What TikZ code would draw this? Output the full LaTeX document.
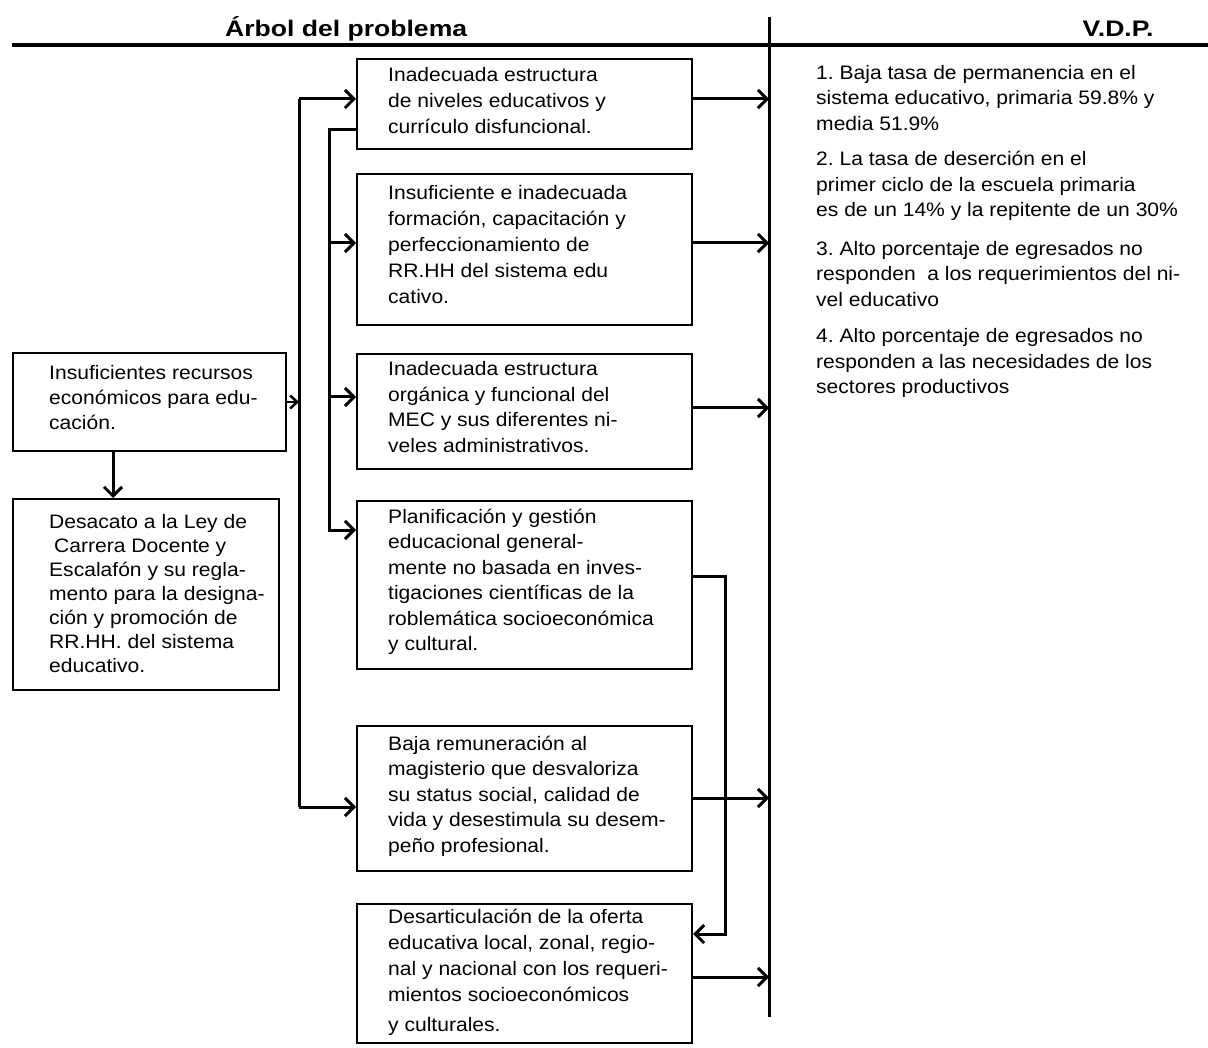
\documentclass[tikz,border=0pt]{standalone}
\usepackage{fontspec}
\setmainfont{Liberation Sans}
\newfontfamily\bodyfont{Liberation Sans}[FakeStretch=1.08]
\newfontfamily\headfont{Liberation Sans}[FakeStretch=1.18]
\usetikzlibrary{arrows.meta,calc}
\frenchspacing
\begin{document}
\begin{tikzpicture}[x=1pt,y=-1pt,
  box/.style={draw, line width=2pt, inner sep=0pt, anchor=north west},
  txt/.style={anchor=west, inner sep=0pt, align=left, font={\bodyfont\fontsize{19.5pt}{26pt}\selectfont}},
  txtb/.style={txt, font={\bodyfont\fontsize{19.5pt}{24pt}\selectfont}},
  txtm/.style={txt, font={\bodyfont\fontsize{19.5pt}{25.5pt}\selectfont}},
  head/.style={inner sep=0pt, font={\headfont\bfseries\fontsize{22.5pt}{27pt}\selectfont}},
  conn/.style={line width=3pt},
  arr/.style={conn, -{Straight Barb[length=9pt,width=18pt]}},
  arrs/.style={line width=2.5pt, -{Straight Barb[length=7pt,width=13pt]}}]
\useasboundingbox[fill=white] (0,0) rectangle (1208,1048);

% headers
\node[head, anchor=base west] (h1) at (225,37) {Árbol del problema};
\node[head, anchor=base] (h2) at (1118,37) {V.D.P.};
\coordinate (hL) at (12,45);
\coordinate (hR) at (1208,45);
\draw[line width=3.5pt] (hL) -- (hR);
\coordinate (dT) at (769,17);
\coordinate (dB) at (769,1017);
\draw[conn] (dT) -- (dB);

% boxes
\node[box, minimum width=335pt, minimum height=90pt] (b1) at (356,58) {};
\node[box, minimum width=335pt, minimum height=151pt] (b2) at (356,173) {};
\node[box, minimum width=335pt, minimum height=115pt] (b3) at (356,353) {};
\node[box, minimum width=335pt, minimum height=168pt] (b4) at (356,500) {};
\node[box, minimum width=335pt, minimum height=145pt] (b5) at (356,725) {};
\node[box, minimum width=335pt, minimum height=139pt] (b6) at (356,903) {};
\node[box, minimum width=273pt, minimum height=98pt] (ba) at (12,352) {};
\node[box, minimum width=266pt, minimum height=191pt] (bb) at (12,498) {};

% box texts
\node[txt] (t1) at (388,101) {Inadecuada estructura\\de niveles educativos y\\currículo disfuncional.};
\node[txt] (t2) at (388,245) {Insuficiente e inadecuada\\formación, capacitación y\\perfeccionamiento de\\RR.HH del sistema edu\\cativo.};
\node[txtm] (t3) at (388,407) {Inadecuada estructura\\orgánica y funcional del\\MEC y sus diferentes ni-\\veles administrativos.};
\node[txtm] (t4) at (388,582) {Planificación y gestión\\educacional general-\\mente no basada en inves-\\tigaciones científicas de la\\roblemática socioeconómica\\y cultural.};
\node[txtm] (t5) at (388,796) {Baja remuneración al\\magisterio que desvaloriza\\su status social, calidad de\\vida y desestimula su desem-\\peño profesional.};
\node[txt] (t6) at (388,972) {Desarticulación de la oferta\\educativa local, zonal, regio-\\nal y nacional con los requeri-\\mientos socioeconómicos\\[4pt]y culturales.};
\node[txt, font={\bodyfont\fontsize{19.5pt}{25pt}\selectfont}] (ta) at (49,398) {Insuficientes recursos\\económicos para edu-\\cación.};
\node[txtb] (tb) at (49,594) {Desacato a la Ley de\\\hspace*{5pt}Carrera Docente y\\Escalafón y su regla-\\mento para la designa-\\ción y promoción de\\RR.HH. del sistema\\educativo.};

% right texts
\node[txtm] (v1) at (816,98) {1. Baja tasa de permanencia en el\\sistema educativo, primaria 59.8\% y\\media 51.9\%};
\node[txtm] (v2) at (816,186) {2. La tasa de deserción en el\\primer ciclo de la escuela primaria\\es de un 14\% y la repitente de un 30\%};
\node[txtm] (v3) at (816,274) {3. Alto porcentaje de egresados no\\responden\ \ a los requerimientos del ni-\\vel educativo};
\node[txtm] (v4) at (816,363) {4. Alto porcentaje de egresados no\\responden a las necesidades de los\\sectores productivos};

% trunk
\coordinate (tA) at (299,99);
\coordinate (tB) at (299,807);
\coordinate (tC) at (299,402);
\draw[conn] (tA) -- (tB);
\draw[arr] (tA) -- (tA -| b1.west);
\draw[arr] (tB) -- (tB -| b5.west);
\draw[arrs] (tC -| ba.east) -- (tC);

% second line
\coordinate (s0) at (329,130);
\coordinate (s1) at (329,243);
\coordinate (s2) at (329,397);
\coordinate (s3) at (329,530);
\draw[arr] (s0 -| b1.west) -- (s0) -- (s3) -- (s3 -| b4.west);
\draw[arr] (s1) -- (s1 -| b2.west);
\draw[arr] (s2) -- (s2 -| b3.west);

% A -> B
\coordinate (ab) at (113,450);
\draw[arr] (ab |- ba.south) -- (ab |- bb.north);

% right arrows
\coordinate (r1) at (769,99);
\coordinate (r2) at (769,243);
\coordinate (r3) at (769,408);
\coordinate (r5) at (769,798);
\coordinate (r6) at (769,977);
\draw[arr] (r1 -| b1.east) -- (r1);
\draw[arr] (r2 -| b2.east) -- (r2);
\draw[arr] (r3 -| b3.east) -- (r3);
\draw[arr] (r5 -| b5.east) -- (r5);
\draw[arr] (r6 -| b6.east) -- (r6);

% loop from b4 to b6
\coordinate (l0) at (725,576);
\coordinate (l1) at (725,934);
\draw[arr] (l0 -| b4.east) -- (l0) -- (l1) -- (l1 -| b6.east);
\end{tikzpicture}
\end{document}
